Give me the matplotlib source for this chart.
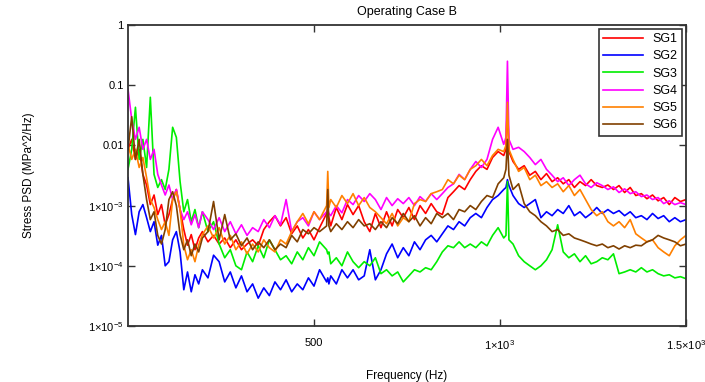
import matplotlib
matplotlib.use("Agg")
import matplotlib.pyplot as plt

plt.rcParams['font.family'] = ['Liberation Sans', 'DejaVu Sans']
plt.rcParams['mathtext.default'] = 'regular'

# frequency axis (Hz) shared by all gauges
freq = [
	0, 10, 20, 30, 40, 50, 60, 70, 80, 90, 100, 110, 120, 130, 140, 150, 160, 170, 180, 190, 200,
	215, 230, 245, 260, 275, 290, 305, 320, 335, 350, 365, 380, 395, 410, 425, 440, 455, 470, 485, 500, 515,
	534, 537, 540,
	545, 560, 575, 590, 605, 620, 635,
	650, 665, 680, 695, 710, 725, 740, 755, 770, 785, 800, 815, 830, 845,
	860, 875, 890, 905, 920, 935, 950, 965, 980, 995, 1010, 1016, 1020, 1024,
	1035, 1050, 1065, 1080, 1095, 1110, 1125, 1140, 1155, 1170, 1185, 1200, 1215, 1230, 1245, 1260,
	1275, 1290, 1305, 1320, 1335, 1350, 1365, 1380, 1395, 1410, 1425, 1440, 1455, 1470, 1485, 1500,
]

# stress PSD (MPa^2/Hz)
sg1 = [
	8.6e-3, 0.0126, 5.85e-3, 8.6e-3, 3.3e-3, 2.2e-3, 1.04e-3, 1.5e-3, 7.1e-4, 1.04e-3, 4.8e-4,
	7.1e-4, 1.26e-3, 1.85e-3, 8.6e-4, 4.0e-4, 2.2e-4, 3.3e-4, 1.85e-4, 2.9e-4, 3.7e-4,
	2.5e-4, 3.2e-4, 2.3e-4, 2.9e-4, 2.0e-4, 2.7e-4, 1.85e-4, 2.3e-4, 2.7e-4, 2.15e-4, 4.0e-4,
	5.4e-4, 6.8e-4, 4.6e-4, 6.3e-4, 3.4e-4, 4.6e-4, 2.9e-4, 4.0e-4, 2.7e-4, 4.3e-4,
	7.4e-4, 7.9e-4, 6.3e-4,
	4.6e-4, 9.3e-4, 5.85e-4, 1.04e-3, 7.1e-4, 1.0e-3, 5.4e-4,
	3.7e-4, 7.4e-4, 4.3e-4, 7.9e-4, 4.6e-4, 8.6e-4, 6.3e-4, 9.3e-4, 5.85e-4, 1.0e-3, 7.4e-4,
	1.08e-3, 7.9e-4, 7.1e-4,
	1.36e-3, 1.7e-3, 2.15e-3, 1.85e-3, 2.7e-3, 3.7e-3, 4.6e-3, 4.0e-3, 6.3e-3, 7.9e-3, 6.8e-3,
	8.6e-3, 0.0585, 7.9e-3,
	5.4e-3, 4.0e-3, 4.6e-3, 3.2e-3, 3.7e-3, 2.7e-3, 3.4e-3, 2.5e-3, 2.9e-3, 2.3e-3, 2.7e-3,
	2.0e-3, 2.5e-3, 2.15e-3, 2.7e-3, 2.15e-3, 2.0e-3, 2.2e-3, 1.85e-3, 2.15e-3, 1.65e-3, 2.0e-3,
	1.47e-3, 1.58e-3, 1.3e-3, 1.5e-3, 1.2e-3, 1.36e-3, 1.04e-3, 1.36e-3, 1.17e-3, 1.26e-3,
]
sg2 = [
	2.9e-3, 7.1e-4, 3.3e-4, 7.9e-4, 1.04e-3, 6.3e-4, 3.7e-4, 5.4e-4, 2.2e-4, 3.2e-4, 1.0e-4,
	1.17e-4, 2.7e-4, 3.7e-4, 1.7e-4, 4.0e-5, 7.9e-5, 3.7e-5, 7.1e-5, 5.0e-5, 8.6e-5,
	6.3e-5, 1.5e-4, 1.17e-4, 5.4e-5, 7.9e-5, 4.3e-5, 6.8e-5, 3.7e-5, 5.0e-5, 2.9e-5, 4.3e-5,
	3.2e-5, 5.4e-5, 4.0e-5, 5.85e-5, 3.7e-5, 5.0e-5, 4.0e-5, 6.3e-5, 4.6e-5, 8.6e-5,
	5.4e-5, 6.3e-5, 5.0e-5,
	6.8e-5, 5.0e-5, 8.6e-5, 6.3e-5, 8.6e-5, 5.85e-5, 6.8e-5,
	1.85e-4, 5.85e-5, 8.6e-5, 1.58e-4, 2.3e-4, 1.36e-4, 2.0e-4, 1.47e-4, 2.5e-4, 1.85e-4, 2.7e-4,
	3.2e-4, 2.5e-4, 3.4e-4,
	4.6e-4, 4.0e-4, 5.4e-4, 4.6e-4, 6.3e-4, 7.4e-4, 6.3e-4, 9.3e-4, 1.26e-3, 1.47e-3, 1.85e-3,
	2.0e-3, 2.7e-3, 2.15e-3,
	1.47e-3, 1.08e-3, 9.3e-4, 1.08e-3, 1.26e-3, 6.3e-4, 7.9e-4, 6.8e-4, 8.6e-4, 7.4e-4, 1.0e-3,
	6.8e-4, 7.9e-4, 6.3e-4, 7.4e-4, 9.3e-4, 7.4e-4, 8.6e-4, 7.4e-4, 8.25e-4, 6.8e-4, 7.9e-4,
	6.3e-4, 6.8e-4, 5.85e-4, 7.4e-4, 6.1e-4, 6.8e-4, 5.4e-4, 6.3e-4, 5.4e-4, 5.85e-4,
]
sg3 = [
	4.0e-3, 8.6e-3, 0.043, 5.85e-3, 0.0126, 4.3e-3, 0.063, 3.3e-3, 2.0e-3, 2.7e-3, 1.85e-3,
	4.0e-3, 0.020, 0.0136, 2.5e-3, 7.9e-4, 1.26e-3, 5.4e-4, 8.6e-4, 4.3e-4, 7.9e-4,
	3.7e-4, 5.4e-4, 2.3e-4, 1.36e-4, 1.85e-4, 1.0e-4, 8.6e-5, 1.7e-4, 1.17e-4, 2.15e-4, 1.36e-4,
	2.7e-4, 1.85e-4, 1.26e-4, 1.47e-4, 1.08e-4, 1.7e-4, 1.26e-4, 2.0e-4, 1.47e-4, 2.5e-4,
	1.85e-4, 1.58e-4, 1.7e-4,
	1.08e-4, 1.36e-4, 1.0e-4, 1.7e-4, 1.17e-4, 9.3e-5, 1.17e-4,
	1.0e-4, 1.36e-4, 7.4e-5, 8.6e-5, 6.8e-5, 7.9e-5, 5.4e-5, 6.8e-5, 8.6e-5, 7.9e-5, 9.3e-5,
	8.6e-5, 1.17e-4, 1.7e-4,
	2.15e-4, 2.0e-4, 2.5e-4, 2.0e-4, 2.3e-4, 2.0e-4, 2.5e-4, 2.15e-4, 3.2e-4, 4.3e-4, 2.9e-4,
	3.2e-4, 2.5e-3, 2.7e-4,
	2.3e-4, 1.47e-4, 1.17e-4, 1.0e-4, 8.6e-5, 1.0e-4, 1.26e-4, 1.85e-4, 4.8e-4, 1.7e-4, 1.36e-4,
	1.58e-4, 1.17e-4, 1.47e-4, 1.08e-4, 1.17e-4, 1.36e-4, 1.26e-4, 1.58e-4, 7.4e-5, 7.9e-5, 8.6e-5,
	7.9e-5, 9.3e-5, 7.9e-5, 8.6e-5, 7.4e-5, 6.8e-5, 7.1e-5, 6.3e-5, 6.6e-5, 6.1e-5,
]
sg4 = [
	0.086, 0.027, 0.0126, 0.020, 8.6e-3, 0.0126, 5.85e-3, 8.6e-3, 3.3e-3, 2.2e-3, 1.5e-3,
	2.2e-3, 1.26e-3, 1.85e-3, 8.6e-4, 5.85e-4, 7.9e-4, 4.8e-4, 7.1e-4, 4.3e-4, 7.9e-4,
	5.85e-4, 4.0e-4, 6.3e-4, 3.7e-4, 5.4e-4, 3.4e-4, 4.8e-4, 3.2e-4, 4.3e-4, 3.7e-4, 5.85e-4,
	4.3e-4, 6.8e-4, 4.8e-4, 1.26e-3, 3.7e-4, 5.4e-4, 6.3e-4, 4.6e-4, 7.9e-4, 5.85e-4,
	7.9e-4, 8.6e-4, 7.4e-4,
	6.8e-4, 1.0e-3, 7.6e-4, 1.26e-3, 1.04e-3, 1.47e-3, 1.17e-3,
	1.58e-3, 1.26e-3, 8.6e-4, 1.36e-3, 1.0e-3, 1.3e-3, 1.08e-3, 1.36e-3, 1.0e-3, 1.41e-3, 1.17e-3,
	1.58e-3, 1.26e-3, 1.58e-3,
	2.0e-3, 2.3e-3, 3.3e-3, 2.7e-3, 4.0e-3, 5.4e-3, 4.3e-3, 5.85e-3, 0.0126, 0.020, 0.0104,
	0.0136, 0.25, 0.0126,
	8.6e-3, 9.3e-3, 7.9e-3, 6.3e-3, 4.8e-3, 5.85e-3, 4.0e-3, 3.2e-3, 2.5e-3, 2.9e-3, 2.15e-3,
	2.7e-3, 3.2e-3, 2.3e-3, 2.0e-3, 2.4e-3, 2.15e-3, 1.85e-3, 2.05e-3, 1.65e-3, 1.9e-3, 1.58e-3,
	1.7e-3, 1.41e-3, 1.5e-3, 1.26e-3, 1.36e-3, 1.08e-3, 1.2e-3, 1.04e-3, 1.12e-3, 1.04e-3,
]
sg5 = [
	0.0104, 5.85e-3, 8.6e-3, 4.3e-3, 6.3e-3, 2.9e-3, 1.26e-3, 9.3e-4, 5.85e-4, 4.0e-4, 5.4e-4,
	3.2e-4, 1.26e-3, 1.7e-3, 8.6e-4, 2.2e-4, 1.26e-4, 1.85e-4, 1.17e-4, 2.2e-4, 3.3e-4,
	4.6e-4, 2.9e-4, 4.3e-4, 2.3e-4, 3.2e-4, 1.85e-4, 2.5e-4, 1.58e-4, 2.3e-4, 1.7e-4, 2.7e-4,
	2.0e-4, 1.7e-4, 2.7e-4, 2.3e-4, 3.7e-4, 5.4e-4, 7.4e-4, 5.0e-4, 7.9e-4, 5.85e-4,
	1.0e-3, 3.7e-3, 9.3e-4,
	1.26e-3, 9.3e-4, 1.47e-3, 1.08e-3, 1.58e-3, 1.0e-3, 1.36e-3,
	9.3e-4, 7.9e-4, 6.3e-4, 5.0e-4, 7.4e-4, 4.6e-4, 6.3e-4, 5.4e-4, 1.08e-3, 1.26e-3, 1.17e-3,
	1.58e-3, 1.7e-3, 1.85e-3,
	2.7e-3, 2.3e-3, 3.2e-3, 2.7e-3, 4.0e-3, 4.6e-3, 5.85e-3, 4.6e-3, 6.8e-3, 8.6e-3, 7.9e-3,
	0.01, 0.052, 8.6e-3,
	5.85e-3, 3.7e-3, 4.3e-3, 2.7e-3, 3.2e-3, 2.15e-3, 2.5e-3, 2.0e-3, 2.3e-3, 1.7e-3, 2.15e-3,
	1.47e-3, 1.85e-3, 1.26e-3, 8.6e-4, 6.8e-4, 7.9e-4, 5.4e-4, 4.6e-4, 5.4e-4, 4.3e-4, 5.85e-4,
	3.4e-4, 2.9e-4, 2.5e-4, 2.7e-4, 2.0e-4, 1.7e-4, 1.47e-4, 2.15e-4, 2.7e-4, 3.2e-4,
]
sg6 = [
	8.6e-3, 0.030, 5.85e-3, 0.0126, 3.3e-3, 1.26e-3, 5.85e-4, 7.9e-4, 3.2e-4, 2.3e-4, 4.0e-4,
	1.26e-3, 1.7e-3, 1.0e-3, 3.3e-4, 1.85e-4, 2.7e-4, 1.47e-4, 2.3e-4, 1.7e-4, 2.9e-4,
	3.7e-4, 1.17e-3, 2.7e-4, 7.1e-4, 2.7e-4, 3.4e-4, 2.15e-4, 2.9e-4, 1.85e-4, 2.5e-4, 2.0e-4,
	2.7e-4, 1.85e-4, 2.3e-4, 2.0e-4, 3.2e-4, 2.5e-4, 4.0e-4, 3.4e-4, 4.3e-4, 3.7e-4,
	4.6e-4, 1.85e-3, 4.6e-4,
	3.7e-4, 5.0e-4, 4.0e-4, 5.4e-4, 4.3e-4, 5.85e-4, 4.6e-4,
	5.0e-4, 4.0e-4, 5.4e-4, 4.3e-4, 6.3e-4, 5.0e-4, 7.4e-4, 5.4e-4, 6.8e-4, 4.6e-4, 6.3e-4,
	5.0e-4, 7.4e-4, 6.3e-4,
	7.4e-4, 5.85e-4, 8.6e-4, 7.9e-4, 1.0e-3, 8.6e-4, 1.17e-3, 1.47e-3, 1.36e-3, 2.3e-3, 2.9e-3,
	4.0e-3, 0.0126, 3.2e-3,
	1.85e-3, 2.3e-3, 1.08e-3, 7.9e-4, 6.8e-4, 5.4e-4, 4.6e-4, 3.7e-4, 4.0e-4, 3.2e-4, 3.4e-4,
	2.9e-4, 2.7e-4, 2.5e-4, 2.3e-4, 2.15e-4, 2.3e-4, 2.0e-4, 2.15e-4, 1.9e-4, 2.15e-4, 2.0e-4,
	2.2e-4, 2.15e-4, 2.5e-4, 2.7e-4, 3.2e-4, 2.9e-4, 2.7e-4, 2.5e-4, 2.15e-4, 2.3e-4,
]

labels = ["SG1", "SG2", "SG3", "SG4", "SG5", "SG6"]
colors = ["#ff0000", "#0000ff", "#00ee00", "#ff00ff", "#ff8000", "#804000"]

yticks = [1, 0.1, 0.01, 1e-3, 1e-4, 1e-5]
ytick_labels = ["1", "0.1", "0.01", "1\u00d710$^{-3}$", "1\u00d710$^{-4}$", "1\u00d710$^{-5}$"]
xticks = [500, 1000, 1500]
xtick_labels = ["500", "1\u00d710$^{3}$", "1.5\u00d710$^{3}$"]

fig = plt.figure(figsize=(7.05, 3.82), dpi=100)
ax = fig.add_axes([128/705, 56/382, 558/705, 301/382])

for vals, lab, c in zip([sg1, sg2, sg3, sg4, sg5, sg6], labels, colors):
	ax.plot(freq, vals, color=c, lw=1.2, label=lab)

ax.set_yscale("log")
ax.set_xlim(0, 1500)
ax.set_ylim(1e-5, 1)
ax.set_yticks(yticks, ytick_labels)
ax.set_xticks(xticks, xtick_labels)
ax.minorticks_off()
ax.tick_params(direction="in", length=5, width=1, colors="#333333", labelcolor="black",
               top=True, right=True, labelsize=8)
ax.tick_params(axis="x", pad=9)
ax.tick_params(axis="y", pad=3)
for s in ax.spines.values():
	s.set_color("#333333")
	s.set_linewidth(1.3)

ax.set_title("Operating Case B", fontsize=9, pad=7)
ax.set_xlabel("Frequency (Hz)", fontsize=8.5)
ax.set_ylabel("Stress PSD (MPa^2/Hz)", fontsize=8.5)
ax.xaxis.set_label_coords(0.5, -0.145)
ax.yaxis.set_label_coords(-0.167, 0.5)

leg = ax.legend(loc="upper right", fontsize=9, frameon=True, fancybox=False,
                handlelength=3.2, labelspacing=0.42, borderaxespad=0.3, borderpad=0.35)
leg.get_frame().set_edgecolor("#333333")
leg.get_frame().set_linewidth(1.2)
leg.get_frame().set_alpha(1)

fig.savefig("out.png", dpi=100)
